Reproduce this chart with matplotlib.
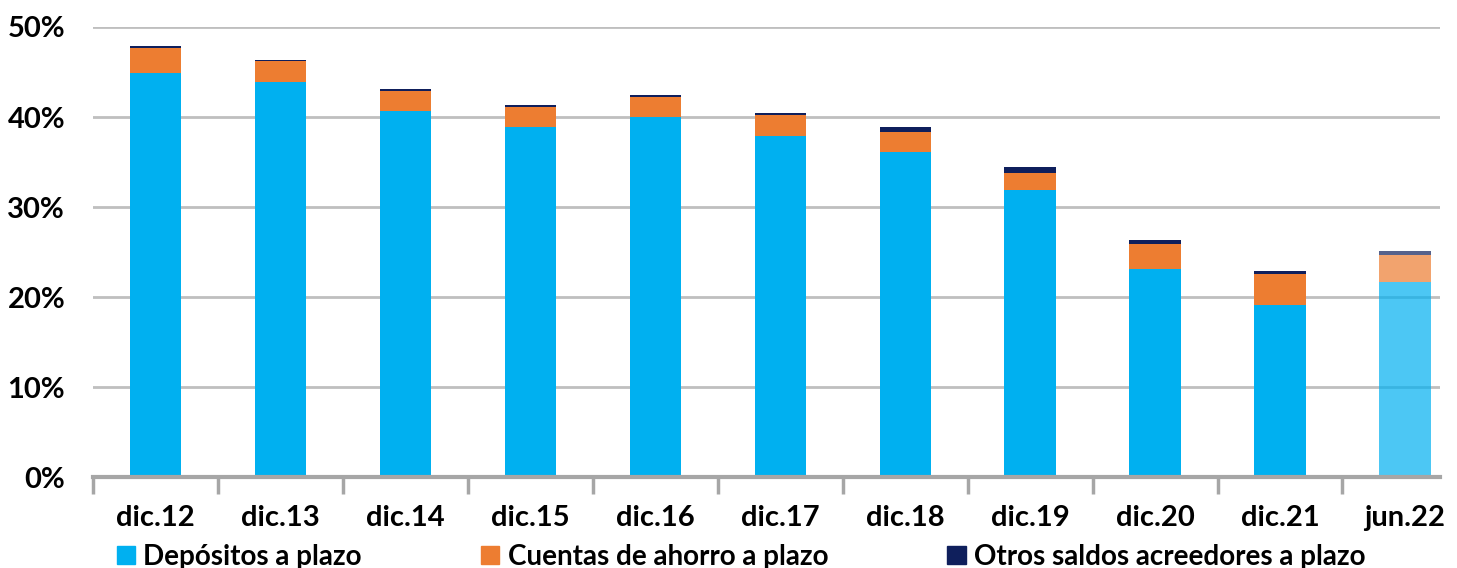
import numpy as np
import matplotlib.pyplot as plt
from matplotlib.patches import Patch

# data (% share)
periodos = ["dic.12", "dic.13", "dic.14", "dic.15", "dic.16", "dic.17",
            "dic.18", "dic.19", "dic.20", "dic.21", "jun.22"]
depositos = [44.9, 43.9, 40.7, 38.9, 40.0, 37.9, 36.1, 31.9, 23.1, 19.1, 21.7]
cuentas = [2.8, 2.3, 2.2, 2.2, 2.2, 2.3, 2.2, 1.9, 2.8, 3.5, 3.0]
otros = [0.2, 0.1, 0.2, 0.2, 0.2, 0.3, 0.6, 0.6, 0.4, 0.3, 0.4]
series_names = ["Depósitos a plazo", "Cuentas de ahorro a plazo",
                "Otros saldos acreedores a plazo"]

plt.rcParams['font.family'] = ['Lato', 'DejaVu Sans']
plt.rcParams['font.weight'] = 'bold'

c_dep = "#00B0F0"
c_cta = "#ED7D31"
c_otr = "#0F1F5C"
fs = 21

fig = plt.figure(figsize=(14.57, 5.68), dpi=100)
ax = fig.add_axes([0.0638, 0.160, 0.9245, 0.7925])

x = np.arange(len(periodos))
dep = np.array(depositos)
cta = np.array(cuentas)
otr = np.array(otros)

# last bar is drawn lighter (provisional figure)
alphas = [1.0] * (len(periodos) - 1) + [0.7]
w = 0.41
for i in range(len(x)):
    a = alphas[i]
    ax.bar(x[i], dep[i], w, color=c_dep, alpha=a, zorder=3)
    ax.bar(x[i], cta[i], w, bottom=dep[i], color=c_cta, alpha=a, zorder=3)
    ax.bar(x[i], otr[i], w, bottom=dep[i] + cta[i], color=c_otr, alpha=a, zorder=3)

ax.set_ylim(0, 50)
ax.set_xlim(-0.5, 10.28)
ax.set_yticks(range(0, 51, 10))
ax.set_yticklabels([f"{v}%" for v in range(0, 51, 10)], fontsize=fs, fontweight='bold')
ax.yaxis.grid(True, color="#BFBFBF", linewidth=2, zorder=0)
ax.tick_params(axis='y', length=0, pad=20)

ax.set_xticks(x)
ax.set_xticklabels(periodos, fontsize=fs, fontweight='bold')
ax.set_xticks(np.arange(-0.5, len(periodos) - 0.5, 1), minor=True)
ax.tick_params(axis='x', which='major', length=0, pad=20)
ax.tick_params(axis='x', which='minor', length=12, width=2.5, color="#A6A6A6")

for s in ["top", "right", "left"]:
    ax.spines[s].set_visible(False)
ax.spines["bottom"].set_color("#A6A6A6")
ax.spines["bottom"].set_linewidth(3)
ax.spines["bottom"].set_zorder(4)

handles = [Patch(color=c_dep), Patch(color=c_cta), Patch(color=c_otr)]
fig.legend(handles, series_names, loc='lower left', bbox_to_anchor=(0.063, -0.047),
           ncol=3, frameon=False, handlelength=0.65, handleheight=0.65,
           handletextpad=0.3, columnspacing=4.3, prop={'weight': 'bold', 'size': 20})

fig.savefig("out.png", dpi=100)
